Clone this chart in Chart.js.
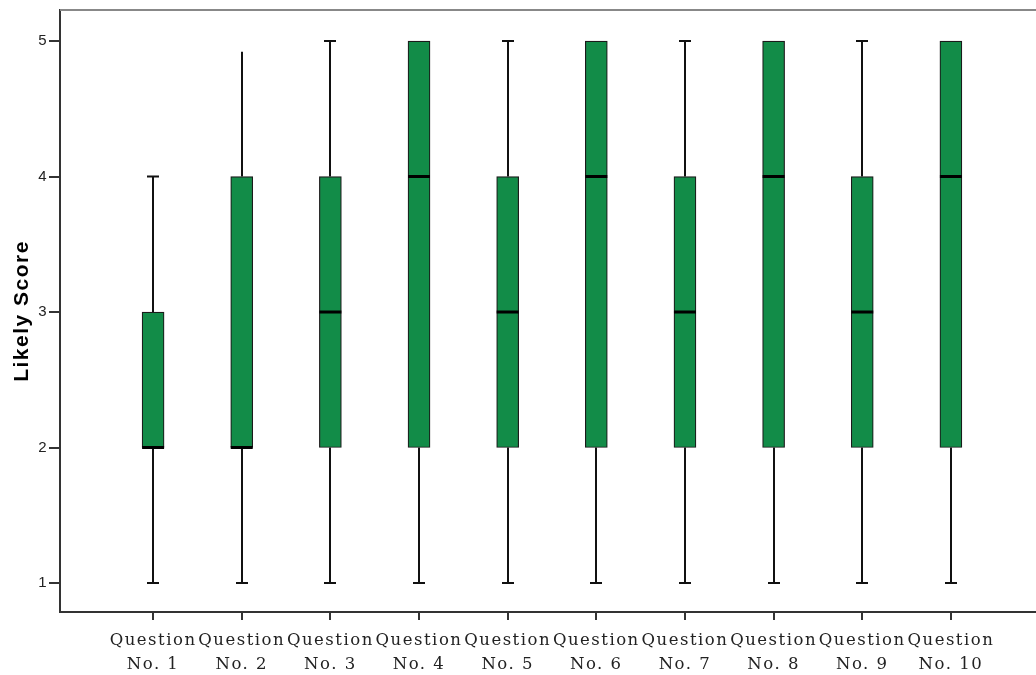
<!DOCTYPE html>
<html><head><meta charset="utf-8">
<script src="https://cdn.jsdelivr.net/npm/chart.js@4"></script>
<style>html,body{margin:0;padding:0;background:#fff}#wrap{width:1036px;height:675px}</style>
</head><body><div id="wrap"><canvas id="c" width="1036" height="675"></canvas></div>
<script>
const categories = ["Question No. 1","Question No. 2","Question No. 3","Question No. 4","Question No. 5","Question No. 6","Question No. 7","Question No. 8","Question No. 9","Question No. 10"];
const positions = [1,2,3,4,5,6,7,8,9,10];
const whiskerLow = [1,1,1,1,1,1,1,1,1,1];
const q1 = [2,2,2,2,2,2,2,2,2,2];
const median = [2,2,3,4,3,4,3,4,3,4];
const q3 = [3,4,4,5,4,5,4,5,4,5];
const whiskerHigh = [4,4.92,5,5,5,5,5,5,5,5];
const topCap = [true,false,true,true,true,true,true,true,true,true];
const yTicks = [1,2,3,4,5];

const spacing = {
  id:'spacing',
  beforeInit(chart){ chart.ctx.letterSpacing='1.5px'; },
  beforeLayout(chart){ chart.ctx.letterSpacing='1.5px'; },
  beforeDraw(chart){ chart.ctx.letterSpacing='1.5px'; }
};

const boxPlugin = {
  id:'boxparts',
  beforeDatasetsDraw(chart){
    const {ctx, scales:{x,y}} = chart;
    ctx.save();
    ctx.strokeStyle='#111'; ctx.lineWidth=2;
    positions.forEach((p,i)=>{
      const px=Math.round(x.getPixelForValue(p));
      ctx.beginPath();
      ctx.moveTo(px,y.getPixelForValue(whiskerLow[i])); ctx.lineTo(px,y.getPixelForValue(q1[i]));
      ctx.moveTo(px,y.getPixelForValue(q3[i])); ctx.lineTo(px,y.getPixelForValue(whiskerHigh[i]));
      ctx.stroke();
      ctx.beginPath();
      ctx.moveTo(px-6,y.getPixelForValue(whiskerLow[i])); ctx.lineTo(px+6,y.getPixelForValue(whiskerLow[i]));
      if(topCap[i] && whiskerHigh[i]>q3[i]){ctx.moveTo(px-6,y.getPixelForValue(whiskerHigh[i])); ctx.lineTo(px+6,y.getPixelForValue(whiskerHigh[i]));}
      ctx.stroke();
    });
    ctx.restore();
  },
  afterDatasetsDraw(chart){
    const {ctx, scales:{x,y}, chartArea:a} = chart;
    ctx.save();
    ctx.strokeStyle='#000'; ctx.lineWidth=3;
    positions.forEach((p,i)=>{
      const px=x.getPixelForValue(p), py=y.getPixelForValue(median[i]);
      ctx.beginPath(); ctx.moveTo(px-11,py); ctx.lineTo(px+11,py); ctx.stroke();
    });
    ctx.strokeStyle='#888'; ctx.lineWidth=2;
    ctx.beginPath(); ctx.moveTo(a.left,a.top); ctx.lineTo(a.right,a.top); ctx.stroke();
    ctx.restore();
  }
};

new Chart(document.getElementById('c'),{
  type:'bar',
  data:{datasets:[{
    data: positions.map((p,i)=>({x:p,y:[q1[i],q3[i]]})),
    backgroundColor:'#128C48', borderColor:'#1a1a1a', borderWidth:1.2, borderSkipped:false,
    barThickness:22
  }]},
  options:{
    responsive:false, animation:false,
    layout:{padding:{top:10,right:0,left:0,bottom:0}},
    plugins:{legend:{display:false},tooltip:{enabled:false}},
    scales:{
      x:{type:'linear', min:-0.05, max:10.96, offset:false,
        afterBuildTicks(ax){ax.ticks=positions.map(v=>({value:v}));},
        afterFit(ax){ax.height=63;},
        grid:{offset:false, drawOnChartArea:false, drawTicks:true, tickLength:8, color:'#333', lineWidth:2},
        border:{display:true,color:'#333',width:2},
        ticks:{autoSkip:false, maxRotation:0, padding:9, color:'#222',
          font:{family:'DejaVu Serif', size:16.5, lineHeight:1.45},
          callback:(v)=>{const i=positions.indexOf(v); if(i<0) return ''; const s=categories[i]; const k=s.indexOf(' '); return [s.slice(0,k), s.slice(k+1)];}}
      },
      y:{min:0.786, max:5.229,
        afterBuildTicks(ax){ax.ticks=yTicks.map(v=>({value:v}));},
        afterFit(ax){ax.width=60;},
        grid:{drawOnChartArea:false, drawTicks:true, tickLength:11, color:'#333', lineWidth:2},
        border:{display:true,color:'#333',width:2},
        ticks:{padding:1, color:'#222', font:{family:'Liberation Sans', size:15}},
        title:{display:true, text:'Likely Score', color:'#000', font:{family:'Liberation Sans', size:21, weight:'bold'}, padding:{top:10,bottom:0}}
      }
    }
  },
  plugins:[spacing, boxPlugin]
});
</script></body></html>
